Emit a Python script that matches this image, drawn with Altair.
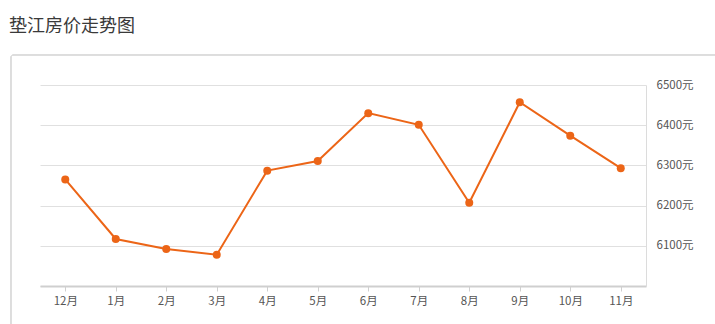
import altair as alt
import pandas as pd

months = ["12月", "1月", "2月", "3月", "4月", "5月", "6月", "7月", "8月", "9月", "10月", "11月"]
prices = [6265, 6117, 6092, 6078, 6287, 6311, 6430, 6401, 6207, 6457, 6374, 6293]
title_text = "垫江房价走势图"

df = pd.DataFrame({"month": months, "price": prices})
FONT = "Noto Sans CJK SC"
ORANGE = "#EC6517"

x_enc = alt.X("month:O", sort=months,
              scale=alt.Scale(type="point", padding=0.5),
              axis=alt.Axis(title=None, labelAngle=0, grid=False,
                            domainColor="#cfcfcf", domainWidth=2,
                            tickColor="#cfcfcf", tickSize=5, tickWidth=1,
                            labelFont=FONT, labelFontSize=11.5, labelColor="#555555",
                            labelPadding=4))
y_enc = alt.Y("price:Q",
              scale=alt.Scale(domain=[6000, 6500], nice=False, zero=False),
              axis=alt.Axis(title=None, orient="right", values=[6000, 6100, 6200, 6300, 6400, 6500],
                            labelExpr="datum.value == 6000 ? '' : datum.value + '元'",
                            ticks=False, domainColor="#dcdcdc", domainWidth=1,
                            gridColor="#e0e0e0", gridWidth=1,
                            labelFont=FONT, labelFontSize=11.5, labelColor="#555555",
                            labelPadding=10))

panel = alt.Chart(df).mark_rect(filled=False, stroke="#dddddd", strokeWidth=1, cornerRadius=3).encode(
    x=alt.value(-29), x2=alt.value(720), y=alt.value(-30), y2=alt.value(280)
)

base = alt.Chart(df)
line = base.mark_line(color=ORANGE, strokeWidth=2).encode(x=x_enc, y=y_enc)
pts = base.mark_circle(color=ORANGE, opacity=1, size=64).encode(x=x_enc, y=y_enc)

title = alt.Chart(pd.DataFrame({"t": [title_text]})).mark_text(
    align="left", baseline="middle", font=FONT, fontSize=18, color="#3a3a3a"
).encode(text="t:N", x=alt.value(-31), y=alt.value(-58))

chart = alt.layer(panel, line, pts, title).properties(
    width=606, height=201,
    autosize=alt.AutoSizeParams(type="none"),
    padding={"left": 40, "top": 85, "right": 69, "bottom": 38},
    view=alt.ViewBackground(stroke="transparent", strokeWidth=0),
).configure_view(stroke="transparent", strokeWidth=0).configure(background="white")

chart.save("out.html", embed_options={"renderer": "svg", "actions": False})
